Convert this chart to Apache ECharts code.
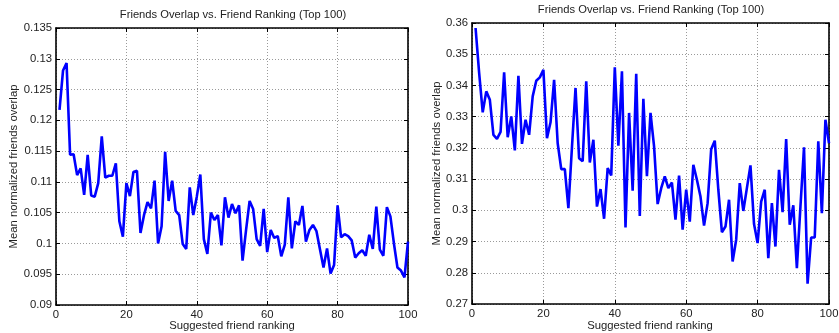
<!DOCTYPE html>
<html>
<head>
<meta charset="utf-8">
<script src="https://cdn.jsdelivr.net/npm/echarts@6/dist/echarts.min.js"></script>
<style>
html,body{margin:0;padding:0;background:#fff;}
#c{width:839px;height:333px;}
</style>
</head>
<body>
<div id="c"></div>
<script>
var ranks = [1,2,3,4,5,6,7,8,9,10,11,12,13,14,15,16,17,18,19,20,21,22,23,24,25,26,27,28,29,30,31,32,33,34,35,36,37,38,39,40,41,42,43,44,45,46,47,48,49,50,51,52,53,54,55,56,57,58,59,60,61,62,63,64,65,66,67,68,69,70,71,72,73,74,75,76,77,78,79,80,81,82,83,84,85,86,87,88,89,90,91,92,93,94,95,96,97,98,99,100];

var leftOverlap = [0.1217,0.1281,0.1293,0.1144,0.1145,0.1111,0.1122,0.1079,0.1144,0.1078,
0.1076,0.1098,0.1174,0.1107,0.1110,0.1110,0.1130,0.1036,0.1011,0.1098,
0.1077,0.1116,0.1118,0.1017,0.1046,0.1067,0.1057,0.1102,0.1000,0.1028,
0.1149,0.1069,0.1102,0.1053,0.1046,0.0999,0.0991,0.1091,0.1046,0.1076,
0.1112,0.1007,0.0983,0.1050,0.1038,0.1046,0.0997,0.1075,0.1042,0.1064,
0.1049,0.1062,0.0972,0.1022,0.1069,0.1056,0.1007,0.0996,0.1056,0.0986,
0.1022,0.1009,0.1012,0.0979,0.0998,0.1075,0.0992,0.1036,0.1030,0.1061,
0.1003,0.1022,0.1030,0.1020,0.0990,0.0961,0.0992,0.0951,0.0965,0.1062,
0.1010,0.1015,0.1012,0.1005,0.0977,0.0984,0.0989,0.0980,0.1014,0.0991,
0.1060,0.0990,0.0980,0.1059,0.1044,0.1000,0.0961,0.0956,0.0945,0.1003];

var rightOverlap = [0.3584,0.3440,0.3314,0.3381,0.3354,0.3242,0.3229,0.3251,0.3442,0.3234,
0.3301,0.3192,0.3431,0.3213,0.3290,0.3242,0.3365,0.3415,0.3426,0.3450,
0.3231,0.3282,0.3418,0.3215,0.3132,0.3132,0.3007,0.3202,0.3392,0.3167,
0.3157,0.3413,0.3153,0.3226,0.3012,0.3068,0.2973,0.3135,0.3112,0.3458,
0.3207,0.3445,0.2945,0.3312,0.3063,0.3437,0.2982,0.3357,0.3109,0.3312,
0.3205,0.3020,0.3071,0.3109,0.3071,0.3089,0.2970,0.3111,0.2938,0.3066,
0.2964,0.3146,0.3098,0.3044,0.2951,0.3023,0.3196,0.3223,0.3066,0.2930,
0.2948,0.3034,0.2836,0.2906,0.3087,0.2998,0.3071,0.3144,0.2956,0.2895,
0.3028,0.3066,0.2847,0.3023,0.2884,0.3130,0.2994,0.3228,0.2954,0.3016,
0.2815,0.3012,0.3202,0.2765,0.2913,0.2913,0.3221,0.2991,0.3290,0.3215];

var xTicks = [0,20,40,60,80,100];
var titleText = 'Friends Overlap vs. Friend Ranking (Top 100)';
var xName = 'Suggested friend ranking';
var yName = 'Mean normalized friends overlap';

var FONT = '"Liberation Sans", Arial, sans-serif';
var chart = echarts.init(document.getElementById('c'), null, {renderer:'canvas'});

function pairs(vals){ return ranks.map(function(r,i){ return [r, vals[i]]; }); }
function fmt(v){ return String(+v.toFixed(3)); }

var grids = [
  {left:56, top:28, width:352, height:277, containLabel:false, outerBoundsMode:'none'},
  {left:472, top:23, width:357, height:281, containLabel:false, outerBoundsMode:'none'}
];
var yRanges = [{min:0.09,max:0.135,interval:0.005},{min:0.27,max:0.36,interval:0.01}];
var yNameGaps = [27, 22];
var titlePos = [{x:233, y:9}, {x:651, y:4}];
var xNamePos = [{x:232, y:320}, {x:650, y:320}];

var AX = {show:true, onZero:false, lineStyle:{color:'#000', width:1.6}};
var TK = {show:true, inside:true, length:4, lineStyle:{color:'#000', width:1}};
var SPL = {show:true, lineStyle:{color:'#9a9a9a', type:[1,2], width:1}};
var LBL = {fontFamily:FONT, fontSize:11.3, fontWeight:'normal', color:'#222'};

var xAxes = [], yAxes = [], series = [], titles = [];
grids.forEach(function(g, k){
  xAxes.push({
    type:'value', gridIndex:k, min:0, max:100, interval:20, position:'bottom',
    axisLine:AX, axisTick:TK,
    axisLabel:Object.assign({margin:4}, LBL),
    splitLine:SPL
  });
  xAxes.push({
    type:'value', gridIndex:k, min:0, max:100, interval:20, position:'top',
    axisLine:AX, axisTick:TK,
    axisLabel:{show:false}, splitLine:{show:false}
  });
  var yr = yRanges[k];
  yAxes.push({
    type:'value', gridIndex:k, min:yr.min, max:yr.max, interval:yr.interval, position:'left',
    name:yName, nameLocation:'middle', nameGap:yNameGaps[k], nameRotate:90,
    nameTextStyle:LBL,
    axisLine:AX, axisTick:TK,
    axisLabel:Object.assign({margin:4, formatter:fmt}, LBL),
    splitLine:SPL
  });
  yAxes.push({
    type:'value', gridIndex:k, min:yr.min, max:yr.max, interval:yr.interval, position:'right',
    axisLine:AX, axisTick:TK,
    axisLabel:{show:false}, splitLine:{show:false}
  });
  series.push({
    type:'line', xAxisIndex:k*2, yAxisIndex:k*2,
    data: pairs(k===0?leftOverlap:rightOverlap),
    showSymbol:false, symbol:'none', smooth:false, clip:false,
    lineStyle:{color:'#0000ff', width:2.6}, animation:false
  });
  titles.push({text:titleText, left:titlePos[k].x, top:titlePos[k].y, textAlign:'center', padding:0,
    textStyle:{fontFamily:FONT, fontSize:11.2, fontWeight:'normal', color:'#222'}});
  titles.push({text:xName, left:xNamePos[k].x, top:xNamePos[k].y, textAlign:'center', padding:0,
    textStyle:LBL});
});

chart.setOption({
  animation:false,
  backgroundColor:'#fff',
  title:titles,
  grid:grids,
  xAxis:xAxes,
  yAxis:yAxes,
  series:series
});
</script>
</body>
</html>
